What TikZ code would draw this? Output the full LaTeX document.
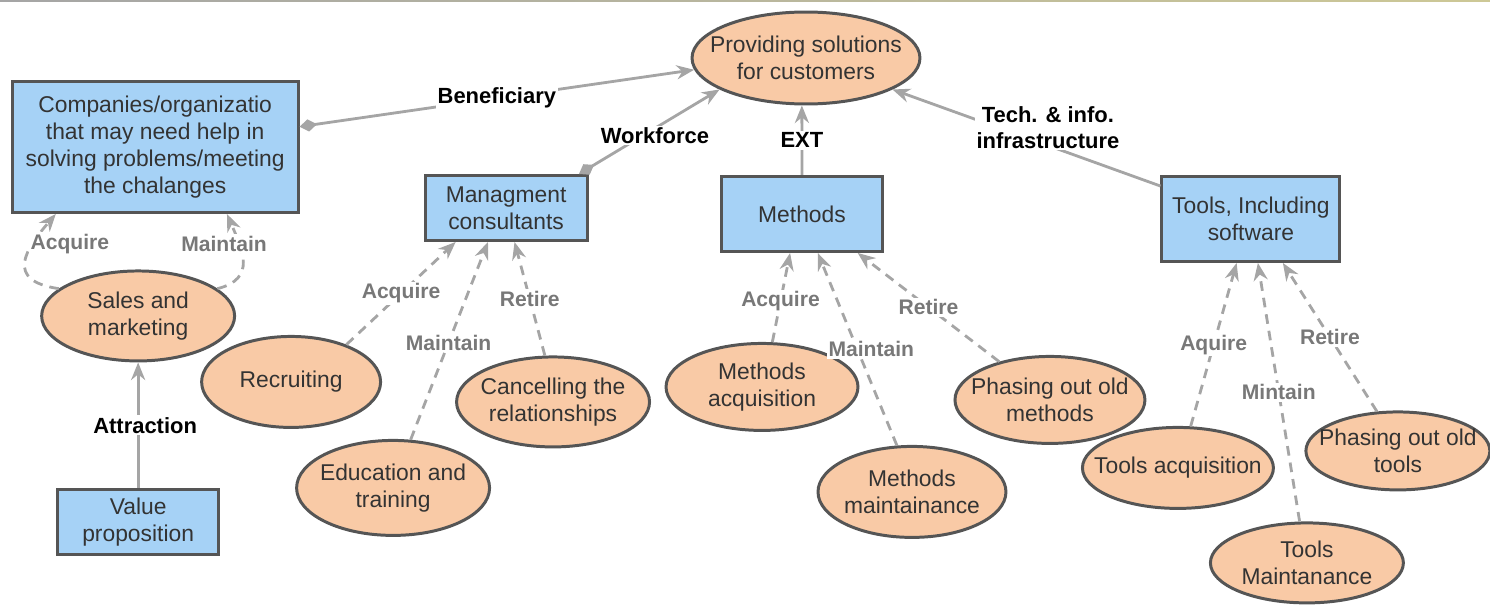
\documentclass[tikz,border=0pt]{standalone}
\usepackage{fontspec}
\setmainfont{Liberation Sans}
\usepackage{xcolor}
\usetikzlibrary{positioning}
\usetikzlibrary{shapes}
\usetikzlibrary{arrows.meta}
\tikzset{>={Stealth[length=10pt,width=8pt]}}

\definecolor{boxblue}{RGB}{166,210,246}
\definecolor{peach}{RGB}{249,202,166}
\definecolor{rimgray}{RGB}{85,85,85}
\definecolor{linkgray}{RGB}{165,165,165}
\definecolor{phasegray}{RGB}{120,120,120}
\definecolor{khaki}{RGB}{205,200,150}

\begin{document}
\begin{tikzpicture}[
            x=0.02cm, y=-0.02cm, on grid,
            unit/.style={rectangle, draw=rimgray, line width=1.7pt, fill=boxblue, text=black!80, align=center, inner sep=2pt, font=\fontsize{13}{15.4}\selectfont},
            activity/.style={ellipse, draw=rimgray, line width=1.7pt, fill=peach, text=black!80, align=center, inner xsep=-0.4cm, inner ysep=0pt, minimum width=3.86cm, minimum height=1.8cm, font=\fontsize{13}{15.4}\selectfont},
            link/.style={draw=linkgray, line width=1.6pt},
            lifeline/.style={link, dash pattern=on 5.5pt off 4pt},
            rel/.style={fill=white, inner sep=1pt, align=center, font=\bfseries\fontsize{12.5}{15}\selectfont},
            phase/.style={fill=white, inner sep=1pt, text=phasegray, font=\bfseries\fontsize{12}{14}\selectfont}
        ]
        \useasboundingbox (0,0) rectangle (1490,608);
        \shade[left color=linkgray, right color=khaki] (0,0) rectangle (1490,2);
        \node[activity, minimum width=4.56cm, minimum height=1.84cm] (goal) at (806,58) {Providing solutions\\for customers};
        \node[unit, minimum width=5.72cm, minimum height=2.62cm, below left = 1.78cm and 13.02cm of goal] (companies) {Companies/organizatio\\that may need help in\\solving problems/meeting\\the chalanges};
        \node[unit, minimum width=3.24cm, minimum height=1.3cm, below left = 3cm and 6cm of goal] (consultants) {Managment\\consultants};
        \node[unit, minimum width=3.22cm, minimum height=1.5cm, below left = 3.12cm and 0.08cm of goal] (methods) {Methods};
        \node[unit, minimum width=3.56cm, minimum height=1.7cm, below right = 3.22cm and 8.9cm of goal] (tools) {Tools, Including\\software};
        \node[activity, below left = 3.38cm and 0.34cm of companies] (sales) {Sales and\\marketing};
        \node[unit, minimum width=3.22cm, minimum height=1.3cm, below = 4.12cm of sales] (valueprop) {Value\\proposition};
        \node[activity, minimum width=3.58cm, minimum height=1.82cm, below left = 3.48cm and 4.3cm of consultants] (recruiting) {Recruiting};
        \node[activity, minimum height=1.9cm, below left = 5.6cm and 2.26cm of consultants] (training) {Education and\\training};
        \node[activity, below right = 3.88cm and 0.94cm of consultants] (cancelling) {Cancelling the\\relationships};
        \node[activity, minimum width=3.84cm, minimum height=1.74cm, below left = 3.46cm and 0.8cm of methods] (methacq) {Methods\\acquisition};
        \node[activity, minimum width=3.76cm, minimum height=1.82cm, below right = 5.56cm and 2.2cm of methods] (methmaint) {Methods\\maintainance};
        \node[activity, minimum width=3.8cm, minimum height=1.74cm, below right = 3.72cm and 4.96cm of methods] (methout) {Phasing out old\\methods};
        \node[activity, minimum width=3.82cm, minimum height=1.62cm, below left = 4.98cm and 1.46cm of tools] (toolacq) {Tools acquisition};
        \node[activity, minimum width=3.86cm, minimum height=1.6cm, below right = 6.88cm and 1.12cm of tools] (toolmaint) {Tools\\Maintanance};
        \node[activity, minimum width=3.68cm, minimum height=1.56cm, below right = 4.64cm and 2.94cm of tools] (toolout) {Phasing out old\\tools};
        % what the work is for
        \draw[link, {Diamond[length=10pt,width=7pt]}->] (companies.8) -- node[rel] {Beneficiary} (goal.186);
        \draw[link, {Diamond[length=10pt,width=7pt]}->] (consultants.25) -- node[rel, pos=0.54, yshift=-0.14cm] {Workforce} (goal.-160);
        \draw[link, ->] (methods.north) -- node[rel] {EXT} (goal.-95);
        \draw[link, ->] (tools.160) -- node[rel, pos=0.42, yshift=0.36cm] {Tech. \& info.\\infrastructure} (goal.-20);
        \draw[link, ->] (valueprop) -- node[rel, pos=0.5, xshift=0.14cm] {Attraction} (sales);
        % life cycle of each resource
        \draw[lifeline, ->] (sales.161) .. controls +(-55,-8) and +(-30,35) .. node[phase, pos=0.7, xshift=0.74cm] {Acquire} (companies.-146);
        \draw[lifeline, ->] (sales.19) .. controls +(40,-10) and +(15,35) .. node[phase, pos=0.7, xshift=-0.3cm] {Maintain} (companies.-43);
        \draw[lifeline, ->] (recruiting.34) -- node[phase] {Acquire} (consultants.-146);
        \draw[lifeline, ->] (training.70) -- node[phase, pos=0.49] {Maintain} (consultants.-118);
        \draw[lifeline, ->] (cancelling.100) -- node[phase] {Retire} (consultants.-76);
        \draw[lifeline, ->] (methacq.77) -- node[phase, pos=0.46] {Acquire} (methods.-107);
        \draw[lifeline, ->] (methmaint.108) -- node[phase, xshift=0.28cm] {Maintain} (methods.-68);
        \draw[lifeline, ->] (methout.143) -- node[phase] {Retire} (methods.-35);
        \draw[lifeline, ->] (toolacq.73) -- node[phase] {Aquire} (tools.-108);
        \draw[lifeline, ->] (toolmaint.100) -- node[phase] {Mintain} (tools.-81);
        \draw[lifeline, ->] (toolout.118) -- node[phase] {Retire} (tools.-54);
\end{tikzpicture}
\end{document}
